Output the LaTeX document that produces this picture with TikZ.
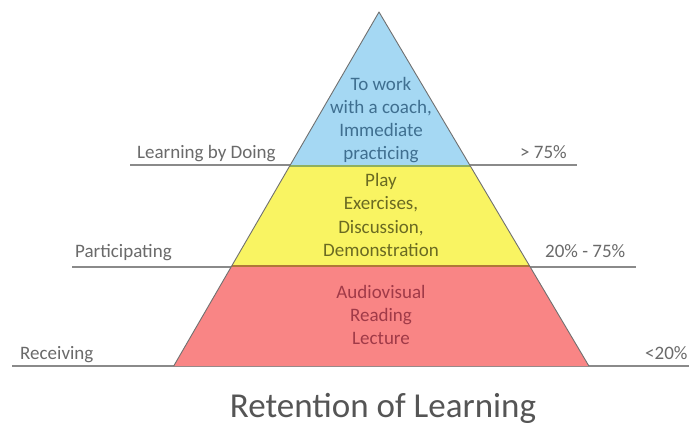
\documentclass[tikz,border=0pt]{standalone}
\usepackage{fontspec}
\setmainfont{Carlito}
\definecolor{tierblue}{HTML}{A5D8F3}
\definecolor{tieryellow}{HTML}{F9F462}
\definecolor{tierred}{HTML}{F98585}
\definecolor{edgegray}{HTML}{707070}
\definecolor{rulegray}{HTML}{8A8A8A}
\definecolor{labelgray}{HTML}{6A6A6A}
\definecolor{bluetext}{HTML}{3F6F90}
\definecolor{yellowtext}{HTML}{6A6A22}
\definecolor{redtext}{HTML}{A03A48}
\definecolor{titlegray}{HTML}{555555}
\definecolor{seamgreen}{HTML}{8FB060}
\definecolor{seambrown}{HTML}{B07838}
\begin{document}
\begin{tikzpicture}[x=1pt,y=-1pt,
  tieredge/.style={draw=edgegray, line width=0.9pt, line join=round},
  rule/.style={draw=rulegray, line width=1.6pt},
  sidelabel/.style={font=\fontsize{19}{23}\selectfont, text=labelgray, inner sep=0pt, anchor=base west},
  tiertext/.style={font=\fontsize{19}{23.3}\selectfont, align=center, inner sep=0pt},
]
\useasboundingbox[fill=white] (0,0) rectangle (689,426);
% rules
\coordinate (r1a) at (130,165); \coordinate (r1b) at (577,165);
\coordinate (r2a) at (72,267);  \coordinate (r2b) at (636,267);
\coordinate (r3a) at (12,366);  \coordinate (r3b) at (689,366);
\draw[rule] (r1a) -- (r1b);
\draw[rule] (r2a) -- (r2b);
\draw[rule] (r3a) -- (r3b);
% pyramid
\coordinate (apex) at (379,12);
\coordinate (bl1) at (289.7,166); \coordinate (br1) at (470.3,166);
\coordinate (bl2) at (231.7,266); \coordinate (br2) at (529.6,266);
\coordinate (bl3) at (173.7,366); \coordinate (br3) at (588.9,366);
\fill[tierblue] (apex) -- (br1) -- (bl1) -- cycle;
\fill[tieryellow] (bl1) -- (br1) -- (br2) -- (bl2) -- cycle;
\fill[tierred] (bl2) -- (br2) -- (br3) -- (bl3) -- cycle;
\draw[seamgreen, line width=1.2pt] (bl1) -- (br1);
\draw[seambrown, line width=1.2pt] (bl2) -- (br2);
\draw[tieredge] (bl3) -- (apex) -- (br3);
% tier texts
\node[tiertext, text=bluetext] (tdoing) at (381,120) {To work\\with a coach,\\Immediate\\practicing};
\node[tiertext, text=yellowtext] (tpart) at (381,215) {Play\\Exercises,\\Discussion,\\Demonstration};
\node[tiertext, text=redtext] (trecv) at (381,315) {Audiovisual\\Reading\\Lecture};
% side labels
\node[sidelabel] (ldoing) at (137,158) {Learning by Doing};
\node[sidelabel] (pdoing) at (520,158) {> 75\%};
\node[sidelabel] (lpart) at (75,257) {Participating};
\node[sidelabel] (ppart) at (545,257) {20\% - 75\%};
\node[sidelabel] (lrecv) at (20,359) {Receiving};
\node[sidelabel] (precv) at (645,359) {<20\%};
% title
\node[font=\fontsize{35}{40}\selectfont, text=titlegray, anchor=base, inner sep=0pt] (title) at (383,417) {Retention of Learning};
\end{tikzpicture}
\end{document}
